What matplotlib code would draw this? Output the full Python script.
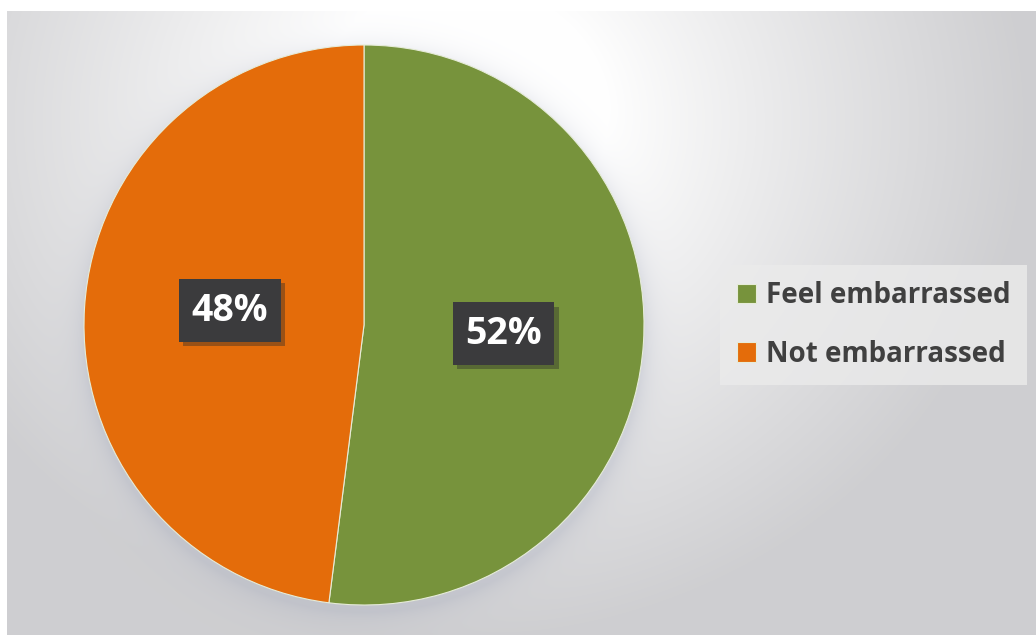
import numpy as np
import matplotlib.pyplot as plt
import matplotlib.patheffects as pe

labels = ["Feel embarrassed", "Not embarrassed"]
shares = [52, 48]
colors = ["#77933c", "#e46c0a"]

plt.rcParams['font.family'] = ['Open Sans', 'DejaVu Sans']

fig = plt.figure(figsize=(10.36, 6.35), dpi=100)
fig.patch.set_facecolor("white")

# background panel: radial gradient plus a soft glow around the pie
bg = fig.add_axes([7 / 1036, 0, 1 - 7 / 1036, 624 / 635])
h, w = 624, 1029
yy, xx = np.mgrid[0:h, 0:w]
d = np.hypot(xx - 450, (yy - 110) * 1.1)
t = np.clip((d - 150) / 420, 0, 1) ** 0.9
shade = 1 - 0.19 * t
rgb = np.dstack([shade, shade, shade + 0.01 * t])
cx, cy, R = 357, 316, 280
r = np.hypot(xx - cx, yy - cy - 5)
glow = 0.22 * np.exp(-np.clip(r - R, 0, None) / 12.0) * (r > R - 10)
tint = np.array([0.55, 0.58, 0.68])
rgb = rgb * (1 - glow[..., None]) + tint * glow[..., None]
bg.imshow(rgb.clip(0, 1), aspect="auto", extent=[0, w, h, 0])
bg.set_axis_off()

ax = fig.add_axes([84 / 1036, 30 / 635, 560 / 1036, 560 / 635])
ax.set_aspect("equal")

wedges, texts, autotexts = ax.pie(
    shares, colors=colors, startangle=90, counterclock=False, radius=1.0,
    autopct="%1.0f%%", pctdistance=0.5,
    wedgeprops=dict(linewidth=0.8, edgecolor="#e6ecd8"),
    textprops=dict(color="white", fontsize=27, fontweight="bold"))
for t_ in autotexts:
    t_.set_bbox(dict(boxstyle="square,pad=0.33", facecolor="#3b3b3d", edgecolor="none"))
    t_.get_bbox_patch().set_path_effects(
        [pe.SimplePatchShadow(offset=(3, -3), shadow_rgbFace="#2a2a2a", alpha=0.4), pe.Normal()])
# nudge the orange label a little up, as in the original layout
autotexts[1].set_position((autotexts[1].get_position()[0] + 0.02, autotexts[1].get_position()[1] + 0.02))
ax.set_xlim(-1.0, 1.0)
ax.set_ylim(-1.0, 1.0)
ax.set_axis_off()

leg = fig.legend(wedges, labels, loc="center left", bbox_to_anchor=(706 / 1036, 1 - 325 / 635),
                 fontsize=20, frameon=True, fancybox=False, handlelength=0.7, handleheight=0.7,
                 handletextpad=0.35, labelspacing=1.05, borderpad=0.6)
leg.get_frame().set_facecolor("#ebebeb")
leg.get_frame().set_edgecolor("none")
leg.get_frame().set_alpha(0.8)
for txt in leg.get_texts():
    txt.set_color("#404040")
    txt.set_fontweight("bold")

fig.savefig("out.png", dpi=100)
